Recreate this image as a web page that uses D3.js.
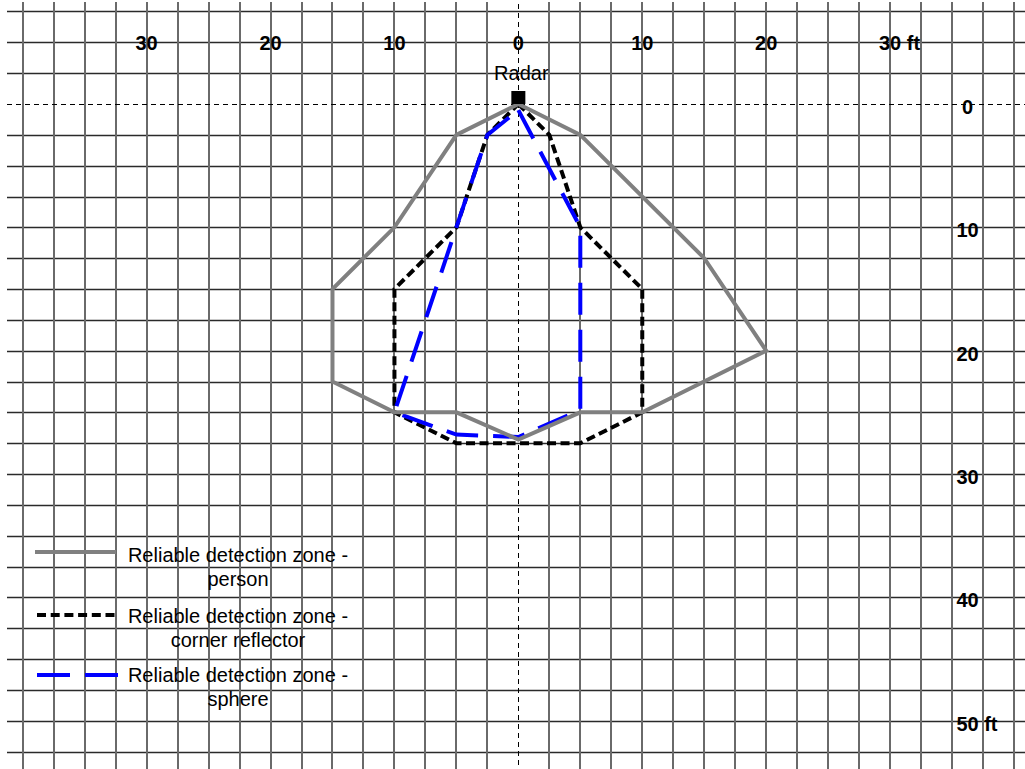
<!DOCTYPE html>
<html>
<head>
<meta charset="utf-8">
<script src="https://cdn.jsdelivr.net/npm/d3@7"></script>
<style>
html, body { margin: 0; padding: 0; background: #fff; }
svg { display: block; }
</style>
</head>
<body>
<svg id="chart" width="1025" height="769"></svg>
<script>
// ---- data (feet) ----
const xTickValues = [-30, -20, -10, 0, 10, 20, 30];
const xTickLabels = ["30", "20", "10", "0", "10", "20", "30"];
const yTickValues = [0, 10, 20, 30, 40, 50];
const yTickLabels = ["0", "10", "20", "30", "40", "50"];
const unitLabel = "ft";

const seriesNames = [
  ["Reliable detection zone -", "person"],
  ["Reliable detection zone -", "corner reflector"],
  ["Reliable detection zone -", "sphere"]
];

const personZone = [[0,0],[5,2.5],[15,12.5],[20,20],[10,25],[5,25],[0,27.2],[-5,25],[-10,25],[-15,22.5],[-15,15],[-10,10],[-5,2.5],[0,0]];
const cornerZone = [[0,0],[2.5,2.5],[5,10],[10,15],[10,25],[5,27.5],[-5,27.5],[-10,25],[-10,15],[-5,10],[-2.5,2.5],[0,0]];
const sphereZone = [[0,0.5],[5,10],[5,24.8],[0,27],[-5,26.8],[-10,25],[-2.5,2.5],[0,0.5]];

const radarPos = [0, 0];
const radarLabel = "Radar";

// ---- layout ----
const W = 1025, H = 769;
const svg = d3.select("#chart");
const x = d3.scaleLinear().domain([-40, 40]).range([22.7, 1014]);
const y = d3.scaleLinear().domain([0, 50]).range([104, 720.7]);

const FONT = "'Liberation Sans', Arial, sans-serif";

// grid
const gridX = d3.range(-40, 40.01, 2.5).filter(v => Math.abs(v) > 1e-9);
const gridY = d3.range(-7.5, 52.51, 2.5).filter(v => Math.abs(v) > 1e-9);

const g = svg.append("g");
g.selectAll("line.hg").data(gridY).join("line")
  .attr("class", "hg")
  .attr("x1", 7).attr("x2", W)
  .attr("y1", d => Math.round(y(d)) + 0.5).attr("y2", d => Math.round(y(d)) + 0.5)
  .attr("stroke", "#2a2a2a").attr("stroke-width", 1.3);
g.selectAll("line.vg").data(gridX).join("line")
  .attr("class", "vg")
  .attr("x1", d => Math.round(x(d))).attr("x2", d => Math.round(x(d)))
  .attr("y1", 2).attr("y2", H)
  .attr("stroke", "#6a6a6a").attr("stroke-width", 2);

// dashed centre axes
g.append("line")
  .attr("x1", 7).attr("x2", W)
  .attr("y1", Math.round(y(0)) + 0.5).attr("y2", Math.round(y(0)) + 0.5)
  .attr("stroke", "#000").attr("stroke-width", 1).attr("stroke-dasharray", "5,4");
g.append("line")
  .attr("x1", Math.round(x(0)) + 0.5).attr("x2", Math.round(x(0)) + 0.5)
  .attr("y1", 4).attr("y2", H)
  .attr("stroke", "#000").attr("stroke-width", 1).attr("stroke-dasharray", "5,4");

// tick labels
function numberWithUnit(sel, cx, baseline, num, withUnit) {
  const t = sel.append("text")
    .attr("y", baseline)
    .attr("font-family", FONT).attr("font-size", 20).attr("font-weight", "bold")
    .attr("fill", "#000");
  const n = t.append("tspan").text(num);
  if (withUnit) t.append("tspan").text(" " + unitLabel);
  const w = n.node().getComputedTextLength();
  t.attr("x", cx - w / 2);
}
const labG = svg.append("g");
xTickValues.forEach((v, i) => {
  numberWithUnit(labG, x(v), y(-5) + 7.5, xTickLabels[i], i === xTickValues.length - 1);
});
yTickValues.forEach((v, i) => {
  numberWithUnit(labG, x(36.25), y(v) + 10, yTickLabels[i], i === yTickValues.length - 1);
});

// zones
const line = d3.line().x(d => x(d[0])).y(d => y(d[1]));
const zones = svg.append("g").attr("fill", "none").attr("stroke-linejoin", "miter");
zones.append("path").datum(cornerZone).attr("d", line)
  .attr("stroke", "#000").attr("stroke-width", 4).attr("stroke-dasharray", "9,4.5");
zones.append("path").datum(sphereZone).attr("d", line)
  .attr("stroke", "#0000ff").attr("stroke-width", 4).attr("stroke-dasharray", "32,15");
zones.append("path").datum(personZone).attr("d", line)
  .attr("stroke", "#808080").attr("stroke-width", 4);

// radar
svg.append("rect")
  .attr("x", x(radarPos[0]) - 7).attr("y", y(radarPos[1]) - 13)
  .attr("width", 14).attr("height", 13).attr("fill", "#000");
svg.append("text")
  .attr("x", x(radarPos[0]) + 3).attr("y", y(radarPos[1]) - 24)
  .attr("text-anchor", "middle")
  .attr("font-family", FONT).attr("font-size", 20).attr("fill", "#000")
  .text(radarLabel);

// legend
const legendStyles = [
  { stroke: "#808080", dash: null, x1: 35, x2: 116 },
  { stroke: "#000", dash: "9,4.7", x1: 37, x2: 118 },
  { stroke: "#0000ff", dash: "33,15", x1: 37, x2: 118 }
];
const legendLineY = [552, 615, 675];
const legendTextY = [562, 623, 682];
const leg = svg.append("g");
seriesNames.forEach((names, i) => {
  const s = legendStyles[i];
  leg.append("line")
    .attr("x1", s.x1).attr("x2", s.x2)
    .attr("y1", legendLineY[i]).attr("y2", legendLineY[i])
    .attr("stroke", s.stroke).attr("stroke-width", 4)
    .attr("stroke-dasharray", s.dash);
  names.forEach((txt, j) => {
    leg.append("text")
      .attr("x", 238).attr("y", legendTextY[i] + j * 23.5)
      .attr("text-anchor", "middle")
      .attr("font-family", FONT).attr("font-size", 20).attr("fill", "#000")
      .text(txt);
  });
});
</script>
</body>
</html>
